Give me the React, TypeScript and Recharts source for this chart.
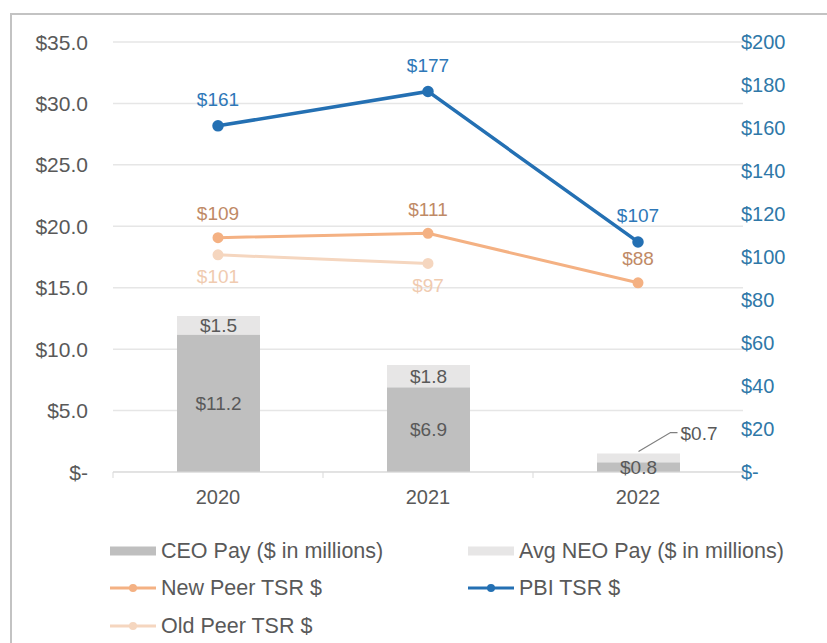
import React from 'react';
import { ComposedChart, Bar, Line, XAxis, YAxis, CartesianGrid, LabelList } from 'recharts';

const years = ['2020', '2021', '2022'];
const ceoPay = [11.2, 6.9, 0.8];
const neoPay = [1.5, 1.8, 0.7];
const pbiTsr = [161, 177, 107];
const newPeerTsr = [109, 111, 88];
const oldPeerTsr: (number | null)[] = [101, 97, null];

const payTicks = [0, 5, 10, 15, 20, 25, 30, 35];
const tsrTicks = [0, 20, 40, 60, 80, 100, 120, 140, 160, 180, 200];

const data = years.map((year, i) => ({
  year,
  ceo: ceoPay[i],
  neo: neoPay[i],
  pbi: pbiTsr[i],
  newPeer: newPeerTsr[i],
  oldPeer: oldPeerTsr[i],
}));

const FONT = '"Liberation Sans", Arial, sans-serif';
const GREY_TEXT = '#595959';
const AXIS_BLUE = '#2f78a8';

const CEO_COLOR = '#bfbfbf';
const NEO_COLOR = '#e7e6e6';
const PBI_COLOR = '#2470b3';
const NEW_PEER_COLOR = '#f4b183';
const OLD_PEER_COLOR = '#f5d6bf';

const legendItems = [
  { name: 'CEO Pay ($ in millions)', color: CEO_COLOR, kind: 'bar' },
  { name: 'Avg NEO Pay ($ in millions)', color: NEO_COLOR, kind: 'bar' },
  { name: 'New Peer TSR $', color: NEW_PEER_COLOR, kind: 'line' },
  { name: 'PBI TSR $', color: PBI_COLOR, kind: 'line' },
  { name: 'Old Peer TSR $', color: OLD_PEER_COLOR, kind: 'line' },
];

const payFmt = (n: number) => (n === 0 ? '$-' : `$${n.toFixed(1)}`);
const tsrFmt = (n: number) => (n === 0 ? '$-' : `$${n}`);

function LeftTick(props: any) {
  const { x, y, payload } = props;
  return (
    <text x={x} y={y} textAnchor="end" dominantBaseline="central" fill={GREY_TEXT} fontSize={21} fontFamily={FONT}>
      {payFmt(Number(payload.value))}
    </text>
  );
}

function RightTick(props: any) {
  const { x, y, payload } = props;
  return (
    <text x={x - 2} y={y} textAnchor="start" dominantBaseline="central" fill={AXIS_BLUE} fontSize={20} fontFamily={FONT}>
      {tsrFmt(Number(payload.value))}
    </text>
  );
}

function YearTick(props: any) {
  const { x, y, payload, index } = props;
  const half = payload.offset || 105;
  const top = y - 14;
  return (
    <g>
      <line x1={x - half} x2={x - half} y1={top} y2={top + 6} stroke="#d9d9d9" />
      {index === years.length - 1 && <line x1={x + half} x2={x + half} y1={top} y2={top + 6} stroke="#d9d9d9" />}
      <text x={x} y={y} dy={11} textAnchor="middle" dominantBaseline="central" fill={GREY_TEXT} fontSize={20} fontFamily={FONT}>
        {payload.value}
      </text>
    </g>
  );
}

function NeoLabel(props: any) {
  const { x, y, width, height, value, index } = props;
  const cx = x + width / 2;
  if (index === 2) {
    return (
      <g>
        <polyline points={`${cx},${y - 2} ${cx + 32},${y - 21} ${cx + 39},${y - 21}`} fill="none" stroke="#7f7f7f" strokeWidth={1.2} />
        <text x={cx + 42} y={y - 20} textAnchor="start" dominantBaseline="central" fill={GREY_TEXT} fontSize={19} fontFamily={FONT}>
          {`$${Number(value).toFixed(1)}`}
        </text>
      </g>
    );
  }
  return (
    <text x={cx} y={y + height / 2} textAnchor="middle" dominantBaseline="central" fill={GREY_TEXT} fontSize={19} fontFamily={FONT}>
      {`$${Number(value).toFixed(1)}`}
    </text>
  );
}

function CeoLabel(props: any) {
  const { x, y, width, height, value } = props;
  return (
    <text x={x + width / 2} y={y + height / 2} textAnchor="middle" dominantBaseline="central" fill={GREY_TEXT} fontSize={19} fontFamily={FONT}>
      {`$${Number(value).toFixed(1)}`}
    </text>
  );
}

function tsrLabel(color: string, dy: number) {
  return (props: any) => {
    const { x, y, value } = props;
    if (value == null) return null;
    return (
      <text x={x} y={y + dy} textAnchor="middle" dominantBaseline="central" fill={color} fontSize={19} fontFamily={FONT}>
        {`$${value}`}
      </text>
    );
  };
}

function LegendBlock() {
  const colX = [110, 468];
  const rowY = [551, 588, 626];
  return (
    <>
      {legendItems.map((item, i) => {
        const left = colX[i % 2];
        const top = rowY[Math.floor(i / 2)];
        return (
          <div key={item.name} style={{ position: 'absolute', left, top: top - 14, height: 28, display: 'flex', alignItems: 'center' }}>
            <svg width={46} height={14} style={{ marginRight: 5 }}>
              {item.kind === 'bar' ? (
                <rect x={0} y={2.5} width={46} height={9} fill={item.color} />
              ) : (
                <>
                  <line x1={0} x2={46} y1={7} y2={7} stroke={item.color} strokeWidth={3} />
                  <circle cx={23} cy={7} r={4} fill={item.color} />
                </>
              )}
            </svg>
            <span style={{ fontFamily: FONT, fontSize: 21.5, color: GREY_TEXT, whiteSpace: 'nowrap' }}>{item.name}</span>
          </div>
        );
      })}
    </>
  );
}

export default function App() {
  return (
    <div style={{ position: 'absolute', left: 0, top: 0, width: 827, height: 643, background: '#fff', overflow: 'hidden' }}>
      <div
        style={{
          position: 'absolute',
          left: 10,
          top: 13,
          width: 830,
          height: 640,
          borderLeft: '2px solid #c3c3c3',
          borderTop: '2px solid #c3c3c3',
        }}
      />
      <div style={{ position: 'absolute', left: 0, top: 0 }}>
        <ComposedChart width={827} height={520} data={data} margin={{ top: 42, right: 0, bottom: 0, left: 0 }}>
          <CartesianGrid yAxisId="left" horizontal vertical={false} stroke="#e6e6e6" strokeWidth={1.5} />
          <XAxis
            dataKey="year"
            height={48}
            axisLine={{ stroke: '#d9d9d9' }}
            tickLine={false}
            tickSize={0}
            tickMargin={14}
            tick={<YearTick />}
          />
          <YAxis
            yAxisId="left"
            width={113}
            domain={[0, 35]}
            ticks={payTicks}
            axisLine={false}
            tickLine={false}
            tickSize={0}
            tickMargin={25}
            tick={<LeftTick />}
          />
          <YAxis
            yAxisId="right"
            orientation="right"
            width={84}
            domain={[0, 200]}
            ticks={tsrTicks}
            axisLine={false}
            tickLine={false}
            tickSize={0}
            tickMargin={0}
            tick={<RightTick />}
          />
          <Bar yAxisId="left" dataKey="ceo" stackId="pay" fill={CEO_COLOR} barSize={83} isAnimationActive={false}>
            <LabelList dataKey="ceo" content={<CeoLabel />} />
          </Bar>
          <Bar yAxisId="left" dataKey="neo" stackId="pay" fill={NEO_COLOR} barSize={83} isAnimationActive={false}>
            <LabelList dataKey="neo" content={<NeoLabel />} />
          </Bar>
          <Line
            yAxisId="right"
            dataKey="oldPeer"
            stroke={OLD_PEER_COLOR}
            strokeWidth={3}
            dot={{ r: 4, fill: OLD_PEER_COLOR, stroke: OLD_PEER_COLOR }}
            isAnimationActive={false}
          >
            <LabelList dataKey="oldPeer" content={tsrLabel('#f0cbb0', 22)} />
          </Line>
          <Line
            yAxisId="right"
            dataKey="newPeer"
            stroke={NEW_PEER_COLOR}
            strokeWidth={3}
            dot={{ r: 4, fill: NEW_PEER_COLOR, stroke: NEW_PEER_COLOR }}
            isAnimationActive={false}
          >
            <LabelList dataKey="newPeer" content={tsrLabel('#bf8a66', -24)} />
          </Line>
          <Line
            yAxisId="right"
            dataKey="pbi"
            stroke={PBI_COLOR}
            strokeWidth={3.5}
            dot={{ r: 4, fill: PBI_COLOR, stroke: PBI_COLOR }}
            isAnimationActive={false}
          >
            <LabelList dataKey="pbi" content={tsrLabel('#2e78b8', -26)} />
          </Line>
        </ComposedChart>
      </div>
      <LegendBlock />
    </div>
  );
}
